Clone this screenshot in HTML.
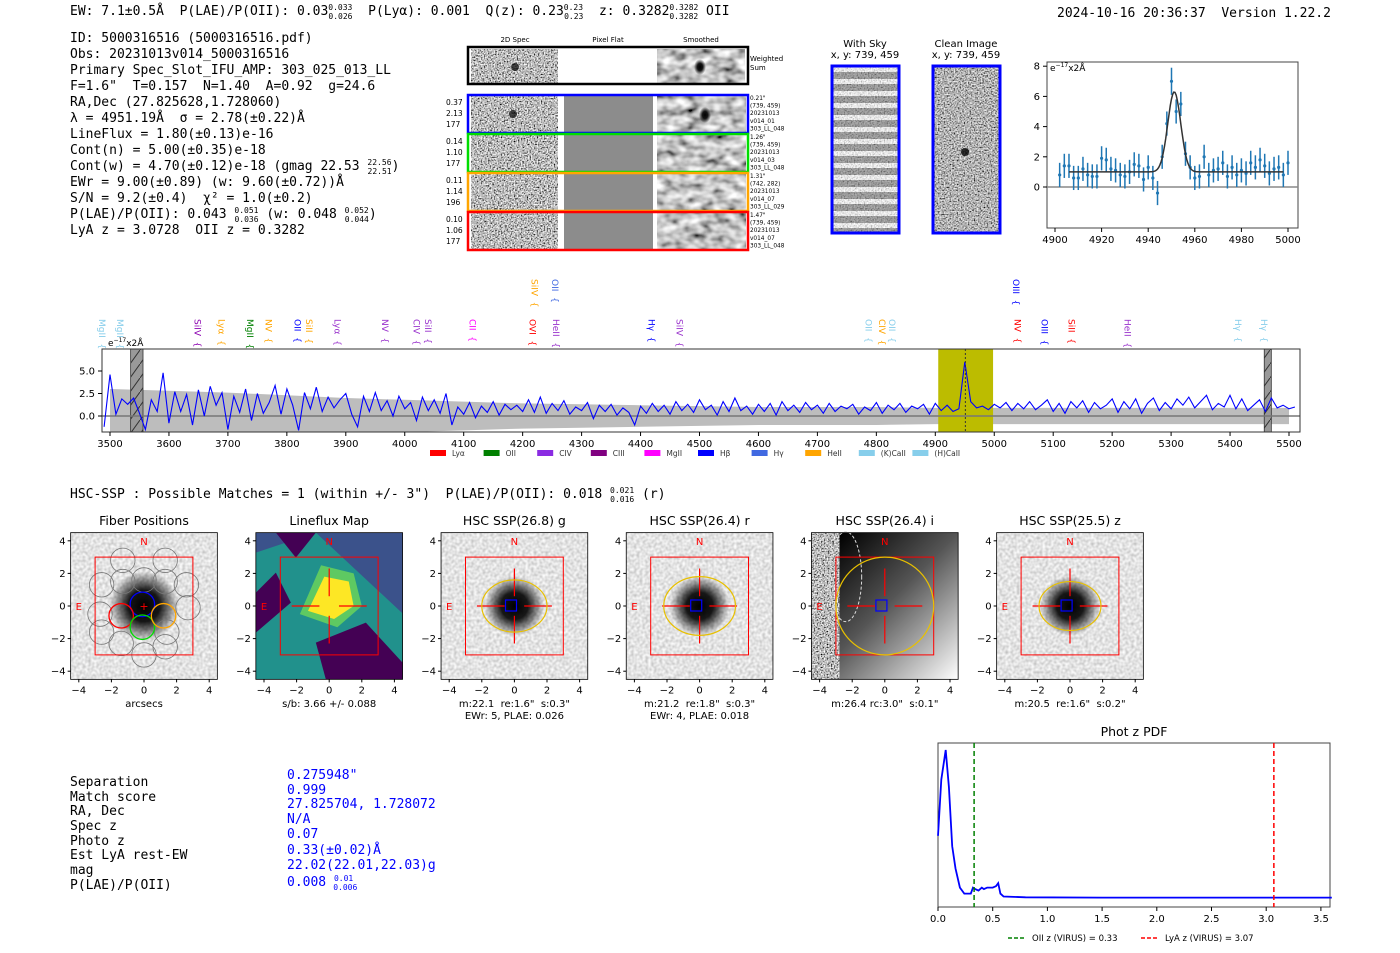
<!DOCTYPE html>
<html><head><meta charset="utf-8"><style>
html,body{margin:0;padding:0;background:#fff;}
svg{display:block;font-family:"DejaVu Sans","Liberation Sans",sans-serif;}
text{white-space:pre;}
.mono{font-family:"DejaVu Sans Mono","Liberation Mono",monospace;font-size:13px;fill:#000;}
.tk{font-size:10px;fill:#000;}
.ttl{font-size:12.5px;fill:#000;}
</style></head><body>
<svg id="fig" width="1400" height="953" viewBox="0 0 1400 953" xmlns="http://www.w3.org/2000/svg" xml:space="preserve">
<defs>
<filter id="nz" x="0" y="0" width="100%" height="100%"><feTurbulence type="fractalNoise" baseFrequency="0.7" numOctaves="1" seed="4"/><feColorMatrix type="matrix" values="2.2 0 0 0 -0.6 2.2 0 0 0 -0.6 2.2 0 0 0 -0.6 0 0 0 0 1"/></filter>
<filter id="nzs" x="0" y="0" width="100%" height="100%"><feTurbulence type="fractalNoise" baseFrequency="0.08 0.12" numOctaves="2" seed="7"/><feColorMatrix type="matrix" values="1.6 0 0 0 -0.25 1.6 0 0 0 -0.25 1.6 0 0 0 -0.25 0 0 0 0 1"/></filter>
<filter id="nzl" x="0" y="0" width="100%" height="100%"><feTurbulence type="fractalNoise" baseFrequency="0.35" numOctaves="1" seed="9"/><feColorMatrix type="matrix" values="0.7 0 0 0 0.42 0.7 0 0 0 0.42 0.7 0 0 0 0.42 0 0 0 0 1"/></filter>
<filter id="nzc" x="0" y="0" width="100%" height="100%"><feTurbulence type="fractalNoise" baseFrequency="0.7" numOctaves="1" seed="11"/><feColorMatrix type="matrix" values="1.8 0 0 0 -0.45 1.8 0 0 0 -0.45 1.8 0 0 0 -0.45 0 0 0 0 1"/></filter>
<radialGradient id="blob"><stop offset="0" stop-color="#000"/><stop offset="0.45" stop-color="#000" stop-opacity="0.9"/><stop offset="1" stop-color="#000" stop-opacity="0"/></radialGradient>
<linearGradient id="igrad" x1="0" y1="0" x2="1" y2="1"><stop offset="0.1" stop-color="#000"/><stop offset="0.5" stop-color="#555"/><stop offset="1" stop-color="#fff"/></linearGradient>
<pattern id="hatch" width="10" height="14" patternUnits="userSpaceOnUse"><rect width="10" height="14" fill="#999"/><path d="M0 14 L10 0" stroke="#333" stroke-width="1"/></pattern>
<pattern id="stripes" width="10" height="12" patternUnits="userSpaceOnUse"><rect width="10" height="12" fill="#fff"/><rect y="0" width="10" height="7" fill="#888"/></pattern>
<clipPath id="specclip"><rect x="102" y="349" width="1198" height="83"/></clipPath>
</defs>

<text class="mono" x="70" y="15">EW: 7.1±0.5Å  P(LAE)/P(OII): 0.03<tspan font-size="8" dy="-5">0.033</tspan><tspan font-size="8" dx="-24" dy="9">0.026</tspan><tspan dy="-4">  P(Lyα): 0.001  Q(z): 0.23</tspan><tspan font-size="8" dy="-5">0.23</tspan><tspan font-size="8" dx="-19" dy="9">0.23</tspan><tspan dy="-4">  z: 0.3282</tspan><tspan font-size="8" dy="-5">0.3282</tspan><tspan font-size="8" dx="-29" dy="9">0.3282</tspan><tspan dy="-4"> OII</tspan></text>
<text class="mono" x="1057" y="17">2024-10-16 20:36:37  Version 1.22.2</text>

<g class="mono">
<text x="70" y="42">ID: 5000316516 (5000316516.pdf)</text>
<text x="70" y="58">Obs: 20231013v014_5000316516</text>
<text x="70" y="74">Primary Spec_Slot_IFU_AMP: 303_025_013_LL</text>
<text x="70" y="90">F=1.6"  T=0.157  N=1.40  A=0.92  g=24.6</text>
<text x="70" y="106">RA,Dec (27.825628,1.728060)</text>
<text x="70" y="122">λ = 4951.19Å  σ = 2.78(±0.22)Å</text>
<text x="70" y="138">LineFlux = 1.80(±0.13)e-16</text>
<text x="70" y="154">Cont(n) = 5.00(±0.35)e-18</text>
<text x="70" y="170">Cont(w) = 4.70(±0.12)e-18 (gmag 22.53 <tspan font-size="8" dy="-5">22.56</tspan><tspan font-size="8" dx="-24" dy="9">22.51</tspan><tspan dy="-4">)</tspan></text>
<text x="70" y="186">EWr = 9.00(±0.89) (w: 9.60(±0.72))Å</text>
<text x="70" y="202">S/N = 9.2(±0.4)  χ² = 1.0(±0.2)</text>
<text x="70" y="218">P(LAE)/P(OII): 0.043 <tspan font-size="8" dy="-5">0.051</tspan><tspan font-size="8" dx="-24" dy="9">0.036</tspan><tspan dy="-4"> (w: 0.048 </tspan><tspan font-size="8" dy="-5">0.052</tspan><tspan font-size="8" dx="-24" dy="9">0.044</tspan><tspan dy="-4">)</tspan></text>
<text x="70" y="234">LyA z = 3.0728  OII z = 0.3282</text>
</g>

<g font-size="7">
<text x="515" y="42" text-anchor="middle">2D Spec</text>
<text x="608" y="42" text-anchor="middle">Pixel Flat</text>
<text x="701" y="42" text-anchor="middle">Smoothed</text>
<rect x="471" y="49" width="87" height="34" filter="url(#nz)"/>
<rect x="657" y="49" width="88" height="34" filter="url(#nzs)"/>
<ellipse cx="700" cy="67" rx="6" ry="8" fill="url(#blob)"/>
<ellipse cx="515" cy="67" rx="4" ry="4" fill="#000" opacity="0.7"/>
<rect x="468" y="47" width="280" height="37" fill="none" stroke="#000" stroke-width="2.5"/>
<text x="750" y="61">Weighted</text><text x="750" y="70">Sum</text>
<g id="rows"></g>
</g>

<g>
<text class="tk" x="865" y="47" text-anchor="middle" font-size="9.5">With Sky</text>
<text class="tk" x="865" y="58" text-anchor="middle" font-size="9.5">x, y: 739, 459</text>
<rect x="832" y="66" width="67" height="167" fill="url(#stripes)"/>
<rect x="832" y="66" width="67" height="167" filter="url(#nz)" opacity="0.35"/>
<rect x="832" y="66" width="67" height="167" fill="none" stroke="#00f" stroke-width="3"/>
</g>
<g>
<text class="tk" x="966" y="47" text-anchor="middle" font-size="9.5">Clean Image</text>
<text class="tk" x="966" y="58" text-anchor="middle" font-size="9.5">x, y: 739, 459</text>
<rect x="933" y="66" width="67" height="167" filter="url(#nzc)"/>
<ellipse cx="965" cy="152" rx="4" ry="4" fill="#000" opacity="0.8"/>
<rect x="933" y="66" width="67" height="167" fill="none" stroke="#00f" stroke-width="3"/>
</g>

<g id="inset"></g>
<g id="spec"></g>

<text class="mono" x="70" y="498">HSC-SSP : Possible Matches = 1 (within +/- 3")  P(LAE)/P(OII): 0.018 <tspan font-size="8" dy="-5">0.021</tspan><tspan font-size="8" dx="-24" dy="9">0.016</tspan><tspan dy="-4"> (r)</tspan></text>

<g id="cutouts"></g>

<g class="mono">
<text x="70" y="786">Separation</text><text x="70" y="801">Match score</text><text x="70" y="815">RA, Dec</text><text x="70" y="830">Spec z</text><text x="70" y="845">Photo z</text><text x="70" y="859">Est LyA rest-EW</text><text x="70" y="874">mag</text><text x="70" y="889">P(LAE)/P(OII)</text>
</g>
<g class="mono">
<text x="287" y="779" style="fill:#00f">0.275948"</text><text x="287" y="794" style="fill:#00f">0.999</text><text x="287" y="808" style="fill:#00f">27.825704, 1.728072</text><text x="287" y="823" style="fill:#00f">N/A</text><text x="287" y="838" style="fill:#00f">0.07</text><text x="287" y="854" style="fill:#00f">0.33(±0.02)Å</text><text x="287" y="869" style="fill:#00f">22.02(22.01,22.03)g</text><text x="287" y="886" style="fill:#00f">0.008 <tspan font-size="8" dy="-5">0.01</tspan><tspan font-size="8" dx="-20" dy="9">0.006</tspan></text>
</g>

<g id="pdf"></g>
</svg>

<script>
const specStart = 3490, specStep = 10;
const specFlux = [-1.2,4.6,0.2,1.9,1.3,2.0,0.3,-1.5,1.8,0.5,
4.8,-0.8,2.7,0.5,2.4,-1.0,2.9,0.0,3.3,1.2,
2.6,-1.5,2.2,0.4,3.0,-0.5,2.5,0.3,1.5,3.4,
0.2,3.0,1.2,-1.6,2.6,0.8,3.2,0.5,2.1,0.9,
1.8,2.5,0.2,-1.2,2.2,0.5,2.6,0.6,1.7,0.0,
2.2,0.8,1.5,-0.5,2.1,0.6,1.8,0.3,2.5,-1.0,
1.0,0.2,1.5,-0.2,1.1,0.4,1.6,0.1,1.3,0.7,
1.2,0.5,1.8,0.4,2.1,0.3,1.4,0.6,1.7,0.2,
1.0,0.6,1.5,-0.3,1.2,0.5,1.3,0.1,0.9,0.4,
-1.0,1.1,0.3,1.4,0.5,1.2,0.2,1.6,0.6,1.3,
0.4,1.8,0.7,1.2,0.1,1.6,0.5,2.0,0.6,1.1,
0.2,1.3,0.5,1.4,0.1,1.6,0.6,1.2,0.4,1.5,
0.7,1.2,0.3,1.4,0.5,1.1,0.8,1.3,0.2,1.0,
0.6,1.5,0.3,1.2,0.7,1.4,0.4,1.1,0.8,1.3,
0.2,1.4,0.6,1.2,0.5,0.8,6.0,1.6,0.9,1.1,
0.7,1.3,0.9,1.5,0.6,1.4,0.8,1.6,0.7,1.2,
1.8,0.5,1.4,0.3,1.6,0.9,1.7,0.4,1.5,0.8,
1.2,1.9,0.4,1.6,0.8,1.9,0.3,1.4,2.0,0.6,
1.5,0.8,1.9,1.2,2.1,0.9,1.6,2.3,0.7,1.4,
1.0,2.3,0.8,1.9,0.6,1.2,1.8,0.5,2.0,0.9,
1.2,0.8,1.0];
const errWave = [3500,3600,3700,3800,3900,4000,4100,4200,4300,4400,4500,4600,4700,4800,4900,5000,5100,5200,5300,5400,5500];
const errVal = [3.0,2.8,2.6,2.3,2.0,1.8,1.6,1.4,1.3,1.2,1.1,1.0,1.0,1.0,0.9,0.9,0.9,0.9,0.9,0.9,0.9];
const specXTicks = [3500,3600,3700,3800,3900,4000,4100,4200,4300,4400,4500,4600,4700,4800,4900,5000,5100,5200,5300,5400,5500];
const specYTicks = [0.0,2.5,5.0];
const lineNames = ["MgII","MgII","SiIV","Lyα","MgII","NV","OII","SiII","Lyα","NV","CIV","SiII","CII","OVI","HeII","Hγ","SiIV","SiIV","OII","OII","CIV","OII","OIII","NV","OIII","SiII","HeII","Hγ","Hγ"];
const lineWaves = [3486,3516,3648,3688,3737,3768,3817,3837,3885,3966,4019,4039,4114,4216,4256,4418,4465,4219,4254,4786,4809,4826,5036,5039,5084,5130,5225,5413,5457];
const lineRow = [0,0,0,0,0,0,0,0,0,0,0,0,0,0,0,0,0,1,1,0,0,0,1,0,0,0,0,0,0];
const lineColors = ["#87ceeb","#87ceeb","#8b00b0","#ffa500","#008000","#ffa500","#0000ff","#ffa500","#9932cc","#9932cc","#9932cc","#9932cc","#ff00ff","#ff0000","#9932cc","#0000ff","#9932cc","#ffa500","#4169e1","#87ceeb","#ffa500","#87ceeb","#0000ff","#ff0000","#0000ff","#ff0000","#9932cc","#87ceeb","#87ceeb"];
const legendNames = ["Lyα","OII","CIV","CIII","MgII","Hβ","Hγ","HeII","(K)CaII","(H)CaII"];
const legendColors = ["#ff0000","#008000","#8a2be2","#800080","#ff00ff","#0000ff","#4169e1","#ffa500","#87ceeb","#87ceeb"];

const fitWave = [4902,4904,4906,4908,4910,4912,4914,4916,4918,4920,4922,4924,4926,4928,4930,4932,4934,4936,4938,4940,4942,4944,4946,4948,4950,4952,4954,4956,4958,4960,4962,4964,4966,4968,4970,4972,4974,4976,4978,4980,4982,4984,4986,4988,4990,4992,4994,4996,4998,5000];
const fitFlux = [0.8,1.4,1.4,0.6,0.6,1.2,0.8,0.7,0.7,1.9,1.8,1.2,1.1,0.8,0.7,1.0,1.5,1.4,0.5,1.3,0.6,-0.4,2.0,4.2,7.0,5.0,5.5,2.2,1.3,0.6,0.7,2.0,0.8,1.1,1.2,1.6,0.7,1.3,0.8,1.1,0.9,1.6,1.3,1.8,1.4,0.9,1.2,1.3,0.8,1.6];
const fitErr = [0.8,0.8,0.8,0.8,0.8,0.8,0.8,0.8,0.8,0.8,0.8,0.8,0.8,0.8,0.8,0.8,0.8,0.8,0.8,0.8,0.8,0.8,0.8,0.8,0.9,0.8,0.8,0.8,0.8,0.8,0.8,0.8,0.8,0.8,0.8,0.8,0.8,0.8,0.8,0.8,0.8,0.8,0.8,0.8,0.8,0.8,0.8,0.8,0.8,0.8];
const fitCont = [1.0], fitAmp = [5.3], fitMu = [4951.19], fitSigma = [2.78];
const insetXTicks = [4900,4920,4940,4960,4980,5000];
const insetYTicks = [0,2,4,6,8];

const pdfZ = [0,0.03,0.07,0.1,0.13,0.16,0.2,0.24,0.3,0.32,0.34,0.37,0.4,0.42,0.45,0.5,0.53,0.55,0.57,0.6,0.8,1.5,3.6];
const pdfP = [0.42,0.8,1.0,0.75,0.35,0.2,0.07,0.03,0.03,0.07,0.06,0.05,0.07,0.06,0.07,0.07,0.08,0.1,0.03,0.01,0.005,0.003,0.003];
const pdfXTicks = [0.0,0.5,1.0,1.5,2.0,2.5,3.0,3.5];
const pdfOIIz = [0.33], pdfLyaz = [3.07];

const cutTitles = ["Fiber Positions","Lineflux Map","HSC SSP(26.8) g","HSC SSP(26.4) r","HSC SSP(26.4) i","HSC SSP(25.5) z"];
const cutCaps1 = ["arcsecs","s/b: 3.66 +/- 0.088","m:22.1  re:1.6\"  s:0.3\"","m:21.2  re:1.8\"  s:0.3\"","m:26.4 rc:3.0\"  s:0.1\"","m:20.5  re:1.6\"  s:0.2\""];
const cutCaps2 = ["","","EWr: 5, PLAE: 0.026","EWr: 4, PLAE: 0.018","",""];
const cutTicks = [-4,-2,0,2,4];
const ellipseA = [0,0,2.0,2.2,3.0,1.9], ellipseB = [0,0,1.6,1.8,3.0,1.5];

const rowColors = ["#0000ff","#00dd00","#ffa500","#ff0000"];
const rowLeft = [["0.37","2.13","177"],["0.14","1.10","177"],["0.11","1.14","196"],["0.10","1.06","177"]];
const rowRight = [["0.21\"","(739, 459)","20231013","v014_01","303_LL_048"],["1.26\"","(739, 459)","20231013","v014_03","303_LL_048"],["1.31\"","(742, 282)","20231013","v014_07","303_LL_029"],["1.47\"","(739, 459)","20231013","v014_07","303_LL_048"]];

const NS="http://www.w3.org/2000/svg";
function mk(parent, tag, attrs, txt){const e=document.createElementNS(NS,tag);for(const k in attrs)e.setAttribute(k,attrs[k]);if(txt!==undefined)e.textContent=txt;parent.appendChild(e);return e;}

(function(){
const g=document.getElementById('rows');
const rowY=[95,134,173,212];
rowY.forEach((y,i)=>{
 const h=38;
 let r=mk(g,'rect',{x:471,y:y+1,width:87,height:h-2,filter:'url(#nz)'});
 
 
 mk(g,'rect',{x:564,y:y+1,width:89,height:h-2,fill:'#8c8c8c'});
 mk(g,'rect',{x:657,y:y+1,width:89,height:h-2,filter:'url(#nzs)'});
 if(i==0){mk(g,'ellipse',{cx:705,cy:y+20,rx:6,ry:8,fill:'url(#blob)'});mk(g,'ellipse',{cx:513,cy:y+19,rx:4,ry:4,fill:'#000',opacity:0.7});}
 let b=mk(g,'rect',{x:468,y:y,width:280,height:h,fill:'none',stroke:rowColors[i],'stroke-width':2.5});
 
 
 rowLeft[i].forEach((t,j)=>mk(g,'text',{x:446,y:y+10+j*11,'font-size':7.5},t));
 rowRight[i].forEach((t,j)=>mk(g,'text',{x:750,y:y+5+j*7.6,'font-size':5.8},t));
});
})();

(function(){
const g=document.getElementById('inset');
const x0=1047,x1=1298,y0=62,y1=228;
const X=w=>1055+(w-4900)*2.33, Y=v=>187-v*15.1;
mk(g,'rect',{x:x0,y:y0,width:x1-x0,height:y1-y0,fill:'#fff',stroke:'#444','stroke-width':1});
mk(g,'line',{x1:x0,x2:x1,y1:Y(0),y2:Y(0),stroke:'#888','stroke-width':1.5});
insetXTicks.forEach(t=>{mk(g,'line',{x1:X(t),x2:X(t),y1:y1,y2:y1+4,stroke:'#000'});let e=mk(g,'text',{x:X(t),y:y1+15,'text-anchor':'middle',class:'tk','font-size':9.5},String(t));});
insetYTicks.forEach(t=>{mk(g,'line',{x1:x0-4,x2:x0,y1:Y(t),y2:Y(t),stroke:'#000'});let e=mk(g,'text',{x:x0-7,y:Y(t)+3.5,'text-anchor':'end',class:'tk','font-size':9.5},String(t));});
let u=mk(g,'text',{x:x0+3,y:y0+9,'font-size':9},'e');mk(u,'tspan',{'font-size':6,dy:-4},'−17');mk(u,'tspan',{dy:4},'x2Å');
fitWave.forEach((w,i)=>{
 let l=mk(g,'line',{x1:X(w),x2:X(w),y1:Y(fitFlux[i]-fitErr[i]),y2:Y(fitFlux[i]+fitErr[i]),stroke:'#1f77b4','stroke-width':1.5});
 
 
 let c=mk(g,'circle',{cx:X(w),cy:Y(fitFlux[i]),r:1.6,fill:'#1f77b4'});
 
 
});
let d='';for(let w=4906;w<=4998;w+=0.5){const v=fitCont[0]+fitAmp[0]*Math.exp(-0.5*((w-fitMu[0])/fitSigma[0])**2);d+=(d?'L':'M')+X(w).toFixed(1)+' '+Y(v).toFixed(1);}
let p=mk(g,'path',{d:d,fill:'none',stroke:'#333','stroke-width':1.5});


})();

(function(){
const g=document.getElementById('spec');
const x0=102,x1=1300,y0=349,y1=432;
const X=w=>110+(w-3500)*0.5895, Y=v=>416-v*9;
mk(g,'rect',{x:x0,y:y0,width:x1-x0,height:y1-y0,fill:'#fff'});
const cg=mk(g,'g',{'clip-path':'url(#specclip)'});
let top='',bot='';
errWave.forEach((w,i)=>{top+=(i?'L':'M')+X(w)+' '+Y(errVal[i]);});
for(let i=errWave.length-1;i>=0;i--)bot+='L'+X(errWave[i])+' '+Y(-errVal[i]);
let band=mk(cg,'path',{d:top+bot+'Z',fill:'#bdbdbd'});


let yb=mk(cg,'rect',{x:X(4905),y:y0,width:X(4998)-X(4905),height:y1-y0,fill:'#bcbc00'});


mk(cg,'rect',{x:X(3535),y:y0,width:X(3556)-X(3535),height:y1-y0,fill:'url(#hatch)',stroke:'#333','stroke-width':0.8});
mk(cg,'rect',{x:X(5458),y:y0,width:X(5470)-X(5458),height:y1-y0,fill:'url(#hatch)',stroke:'#333','stroke-width':0.8});
mk(cg,'line',{x1:x0,x2:x1,y1:Y(0),y2:Y(0),stroke:'#777','stroke-width':1.5});
let d='';specFlux.forEach((v,i)=>{d+=(i?'L':'M')+X(specStart+i*specStep).toFixed(1)+' '+Y(v).toFixed(1);});
let sp=mk(cg,'path',{d:d,fill:'none',stroke:'#0000ff','stroke-width':1.1});


mk(cg,'line',{x1:X(4951),x2:X(4951),y1:y0,y2:y1,stroke:'#333','stroke-dasharray':'2,2'});
mk(g,'rect',{x:x0,y:y0,width:x1-x0,height:y1-y0,fill:'none',stroke:'#333','stroke-width':1});
specXTicks.forEach(t=>{mk(g,'line',{x1:X(t),x2:X(t),y1:y1,y2:y1+4,stroke:'#000'});let e=mk(g,'text',{x:X(t),y:y1+15,'text-anchor':'middle',class:'tk','font-size':9.5},String(t));});
specYTicks.forEach(t=>{mk(g,'line',{x1:x0-4,x2:x0,y1:Y(t),y2:Y(t),stroke:'#000'});let e=mk(g,'text',{x:x0-7,y:Y(t)+3.5,'text-anchor':'end',class:'tk','font-size':9.5},t.toFixed(1));});
let u=mk(g,'text',{x:108,y:346,'font-size':9},'e');mk(u,'tspan',{'font-size':6,dy:-4},'−17');mk(u,'tspan',{dy:4},'x2Å');
lineNames.forEach((n,i)=>{
 const x=X(lineWaves[i]), y=lineRow[i]?279:319;
 let t=mk(g,'text',{x:x,y:y,'font-size':9,fill:lineColors[i],transform:`rotate(90 ${x} ${y})`,'dominant-baseline':'middle'},n+'  {');
 
 
});
legendNames.forEach((n,i)=>{
 const lx=430+i*53.6;
 let r=mk(g,'rect',{x:lx,y:450,width:16,height:6,fill:legendColors[i]});
 
 
 let t=mk(g,'text',{x:lx+22,y:456,'font-size':7.5,fill:'#333'},n);
 
 
});
})();

(function(){
const G=document.getElementById('cutouts');
for(let k=0;k<6;k++){
 const cx=144+k*185.2, cy=606, s=16.3;
 const X=a=>cx+a*s, Y=a=>cy-a*s;
 const g=mk(G,'g',{});
 
 
 const bx=X(-4.5),by=Y(4.5),bw=9*s,bh=9*s;
 if(k==1){
  mk(g,'rect',{x:bx,y:by,width:bw,height:bh,fill:'#3b528b'});
  mk(g,'polygon',{points:`${bx},${by+20} ${bx+60},${by} ${bx+bw},${by+bh*0.55} ${bx+bw},${by+bh} ${bx},${by+bh}`,fill:'#21918c'});
  mk(g,'polygon',{points:`${bx},${by+60} ${bx+20},${by+40} ${bx+35},${by+70} ${bx},${by+100}`,fill:'#440154'});
  mk(g,'polygon',{points:`${bx+60},${by+110} ${bx+110},${by+90} ${bx+bw},${by+130} ${bx+bw},${by+bh} ${bx+70},${by+bh}`,fill:'#440154'});
  mk(g,'polygon',{points:`${bx+20},${by} ${bx+60},${by} ${bx+40},${by+25}`,fill:'#440154'});
  mk(g,'polygon',{points:`${X(-0.5)},${Y(2.5)} ${X(1.5)},${Y(2)} ${X(2)},${Y(0)} ${X(0.5)},${Y(-1.3)} ${X(-1.8)},${Y(-0.5)}`,fill:'#5ec962'});
  mk(g,'polygon',{points:`${X(-0.3)},${Y(1.8)} ${X(1.2)},${Y(1.5)} ${X(1.5)},${Y(0)} ${X(0.3)},${Y(-0.8)} ${X(-1.3)},${Y(-0.3)}`,fill:'#fde725'});
 } else if(k==4){
  mk(g,'rect',{x:bx,y:by,width:bw,height:bh,fill:'url(#igrad)'});
  mk(g,'rect',{x:bx,y:by,width:28,height:bh,filter:'url(#nz)'});
  mk(g,'ellipse',{cx:X(-2.4),cy:Y(1.8),rx:16,ry:45,fill:'none',stroke:'#ddd','stroke-dasharray':'3,2'});
 } else {
  mk(g,'rect',{x:bx,y:by,width:bw,height:bh,filter:'url(#nzl)'});
  mk(g,'circle',{cx:X(0),cy:Y(0),r:k==0?35:30,fill:'url(#blob)'});
 }
 mk(g,'rect',{x:bx,y:by,width:bw,height:bh,fill:'none',stroke:'#000','stroke-width':0.8});
 if(k==0){
  const fib=[[-1.3,2.8],[1.3,2.8],[-2.6,1.3],[0,1.6],[2.6,1.3],[-2.7,-0.5],[2.7,-0.1],[-2.6,-1.6],[1.4,-1.6],[-1.4,-2.3],[1.3,-2.5],[0,-3.0],[-1.3,1.5],[1.3,1.5]];
  fib.forEach(f=>mk(g,'circle',{cx:X(f[0]),cy:Y(f[1]),r:0.75*s,fill:'none',stroke:'#777','stroke-width':0.8}));
  [[-0.1,0.1,'#00f'],[-1.4,-0.6,'#f00'],[-0.1,-1.3,'#0d0'],[1.2,-0.6,'#ffa500']].forEach(f=>mk(g,'circle',{cx:X(f[0]),cy:Y(f[1]),r:0.75*s,fill:'none',stroke:f[2],'stroke-width':1.3}));
  mk(g,'text',{x:X(0),y:Y(0)+4,'text-anchor':'middle',fill:'#f00','font-size':11},'+');
 }
 mk(g,'rect',{x:X(-3),y:Y(3),width:6*s,height:6*s,fill:'none',stroke:'#f00','stroke-width':1});
 mk(g,'text',{x:X(0),y:Y(4)+4,'text-anchor':'middle',fill:'#f00','font-size':10},'N');
 mk(g,'text',{x:X(-4),y:Y(0)+4,'text-anchor':'middle',fill:'#f00','font-size':10},'E');
 if(k>0){
  [[ -2.3,0,-0.6,0],[0.6,0,2.3,0],[0,2.3,0,0.6],[0,-0.6,0,-2.3]].forEach(l=>mk(g,'line',{x1:X(l[0]),y1:Y(l[1]),x2:X(l[2]),y2:Y(l[3]),stroke:'#f00','stroke-width':1.2}));
 }
 if(k>1){
  mk(g,'ellipse',{cx:X(0),cy:Y(0),rx:ellipseA[k]*s,ry:ellipseB[k]*s,fill:'none',stroke:'#e8c000','stroke-width':1.2});
  mk(g,'rect',{x:X(-0.3)-4,y:Y(0)-6,width:11,height:11,fill:'none',stroke:'#00f','stroke-width':1.2});
 }
 cutTicks.forEach(t=>{
  mk(g,'line',{x1:X(t),x2:X(t),y1:by+bh,y2:by+bh+3,stroke:'#000'});
  mk(g,'text',{x:X(t),y:by+bh+14,'text-anchor':'middle',class:'tk'},t<0?'−'+(-t):String(t));
  mk(g,'line',{x1:bx-3,x2:bx,y1:Y(t),y2:Y(t),stroke:'#000'});
  mk(g,'text',{x:bx-5,y:Y(t)+3.5,'text-anchor':'end',class:'tk'},t<0?'−'+(-t):String(t));
 });
 let tt=mk(g,'text',{x:X(0),y:525,'text-anchor':'middle',class:'ttl'},cutTitles[k]);
 
 
 mk(g,'text',{x:X(0),y:707,'text-anchor':'middle','font-size':10},cutCaps1[k]);
 if(cutCaps2[k])mk(g,'text',{x:X(0),y:719,'text-anchor':'middle','font-size':10},cutCaps2[k]);
}
})();

(function(){
const g=document.getElementById('pdf');
const x0=938,x1=1330,y0=743,y1=907;
const X=z=>938+z*109.4, Y=p=>898-p*148;
mk(g,'text',{x:1134,y:736,'text-anchor':'middle',class:'ttl'},'Phot z PDF');
mk(g,'rect',{x:x0,y:y0,width:x1-x0,height:y1-y0,fill:'#fff',stroke:'#444'});
let d='';pdfZ.forEach((z,i)=>{d+=(i?'L':'M')+X(z).toFixed(1)+' '+Y(pdfP[i]).toFixed(1);});
let p=mk(g,'path',{d:d,fill:'none',stroke:'#0000ff','stroke-width':1.8});


let l1=mk(g,'line',{x1:X(pdfOIIz[0]),x2:X(pdfOIIz[0]),y1:y0,y2:y1,stroke:'#008000','stroke-width':1.5,'stroke-dasharray':'5,3'});


let l2=mk(g,'line',{x1:X(pdfLyaz[0]),x2:X(pdfLyaz[0]),y1:y0,y2:y1,stroke:'#ff0000','stroke-width':1.5,'stroke-dasharray':'5,3'});


pdfXTicks.forEach(t=>{mk(g,'line',{x1:X(t),x2:X(t),y1:y1,y2:y1+4,stroke:'#000'});let e=mk(g,'text',{x:X(t),y:y1+15,'text-anchor':'middle',class:'tk'},t.toFixed(1));});
mk(g,'line',{x1:1008,x2:1026,y1:938,y2:938,stroke:'#008000','stroke-width':1.5,'stroke-dasharray':'4,2'});
let t1=mk(g,'text',{x:1032,y:941,'font-size':8.5},'OII z (VIRUS) = 0.33');


mk(g,'line',{x1:1141,x2:1159,y1:938,y2:938,stroke:'#ff0000','stroke-width':1.5,'stroke-dasharray':'4,2'});
let t2=mk(g,'text',{x:1165,y:941,'font-size':8.5},'LyA z (VIRUS) = 3.07');


})();
</script>
</body></html>
